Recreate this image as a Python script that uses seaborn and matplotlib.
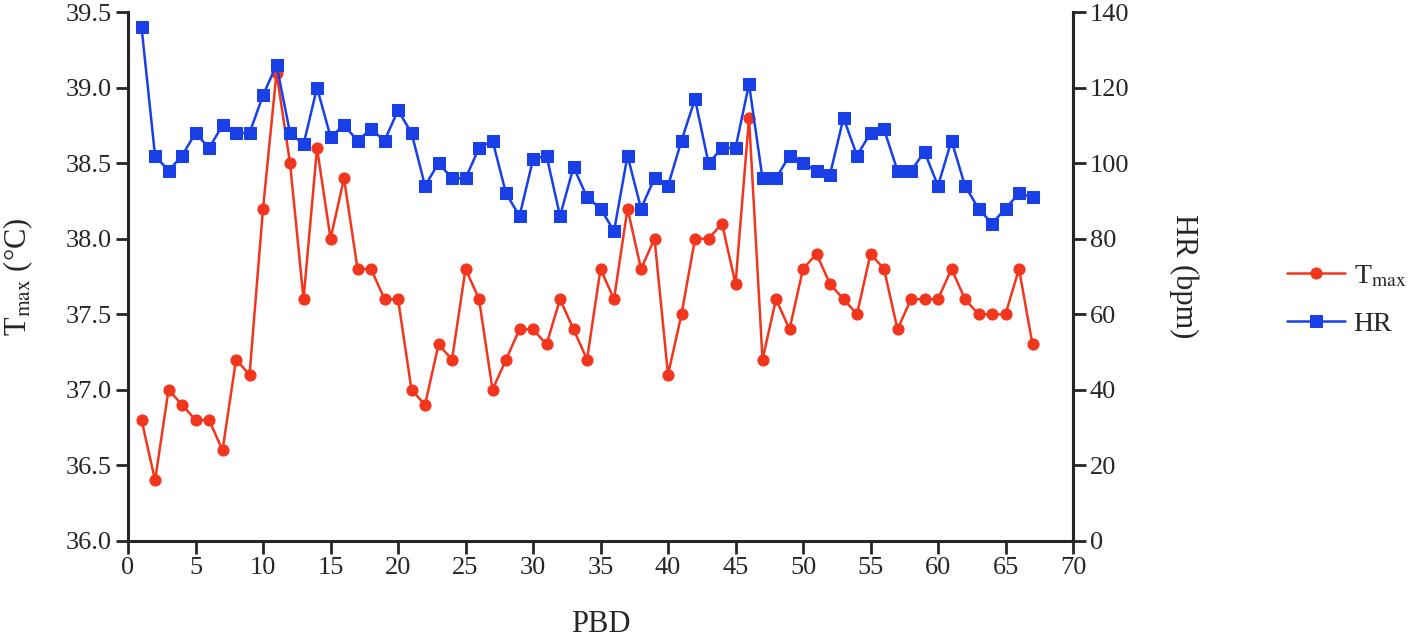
import matplotlib
matplotlib.use("Agg")
import matplotlib.pyplot as plt
import seaborn as sns
import numpy as np

# postburn day
pbd = list(range(1, 68))

# max body temperature (degC)
t_max = [36.8, 36.4, 37.0, 36.9, 36.8, 36.8, 36.6, 37.2, 37.1, 38.2,
         39.1, 38.5, 37.6, 38.6, 38.0, 38.4, 37.8, 37.8, 37.6, 37.6,
         37.0, 36.9, 37.3, 37.2, 37.8, 37.6, 37.0, 37.2, 37.4, 37.4,
         37.3, 37.6, 37.4, 37.2, 37.8, 37.6, 38.2, 37.8, 38.0, 37.1,
         37.5, 38.0, 38.0, 38.1, 37.7, 38.8, 37.2, 37.6, 37.4, 37.8,
         37.9, 37.7, 37.6, 37.5, 37.9, 37.8, 37.4, 37.6, 37.6, 37.6,
         37.8, 37.6, 37.5, 37.5, 37.5, 37.8, 37.3]

# heart rate (bpm)
hr = [136, 102, 98, 102, 108, 104, 110, 108, 108, 118,
      126, 108, 105, 120, 107, 110, 106, 109, 106, 114,
      108, 94, 100, 96, 96, 104, 106, 92, 86, 101,
      102, 86, 99, 91, 88, 82, 102, 88, 96, 94,
      106, 117, 100, 104, 104, 121, 96, 96, 102, 100,
      98, 97, 112, 102, 108, 109, 98, 98, 103, 94,
      106, 94, 88, 84, 88, 92, 91]

red = '#F2361E'
blue = '#1840E6'

sns.set_style("ticks")
plt.rcParams['font.family'] = ['Liberation Serif', 'DejaVu Serif']
plt.rcParams['mathtext.fontset'] = 'stix'
plt.rcParams['axes.linewidth'] = 2.2
plt.rcParams['xtick.major.width'] = 2.0
plt.rcParams['ytick.major.width'] = 2.0
plt.rcParams['xtick.major.size'] = 9
plt.rcParams['ytick.major.size'] = 9

fig, ax = plt.subplots(figsize=(14.18, 6.4), dpi=100)
fig.subplots_adjust(left=0.0903, right=0.7567, top=0.981, bottom=0.155)
ax2 = ax.twinx()

sns.lineplot(x=pbd, y=t_max, ax=ax, color=red, marker='o', markersize=8,
             markeredgecolor=red, linewidth=1.8, label='T$_{\\mathrm{max}}$', legend=False)
sns.lineplot(x=pbd, y=hr, ax=ax2, color=blue, marker='s', markersize=8,
             markeredgecolor=blue, linewidth=1.8, label='HR', legend=False)

ax.set_xlim(0, 70)
ax.set_xticks(np.arange(0, 71, 5))
ax.set_ylim(36.0, 39.5)
ax.set_yticks(np.arange(36.0, 39.51, 0.5))
ax.set_yticklabels([f"{v:.1f}" for v in np.arange(36.0, 39.51, 0.5)])
ax2.set_ylim(0, 140)
ax2.set_yticks(np.arange(0, 141, 20))

for a in (ax, ax2):
    a.tick_params(labelsize=19, direction='out', pad=3)
    a.spines['top'].set_visible(False)
ax2.spines['left'].set_visible(False)
ax2.spines['bottom'].set_visible(False)

ax.set_xlabel('PBD', fontsize=22, labelpad=22)
ax.set_ylabel('T$_{\\mathrm{max}}$ (°C)', fontsize=22, labelpad=22)
ax2.set_ylabel('HR (bpm)', fontsize=22, rotation=270, labelpad=50)

h1, l1 = ax.get_legend_handles_labels()
h2, l2 = ax2.get_legend_handles_labels()
fig.legend(h1 + h2, l1 + l2, loc='center left', bbox_to_anchor=(0.89, 0.531),
           frameon=False, fontsize=20, handlelength=2.1, labelspacing=0.8,
           handletextpad=0.3)

fig.savefig('out.png', dpi=100)
